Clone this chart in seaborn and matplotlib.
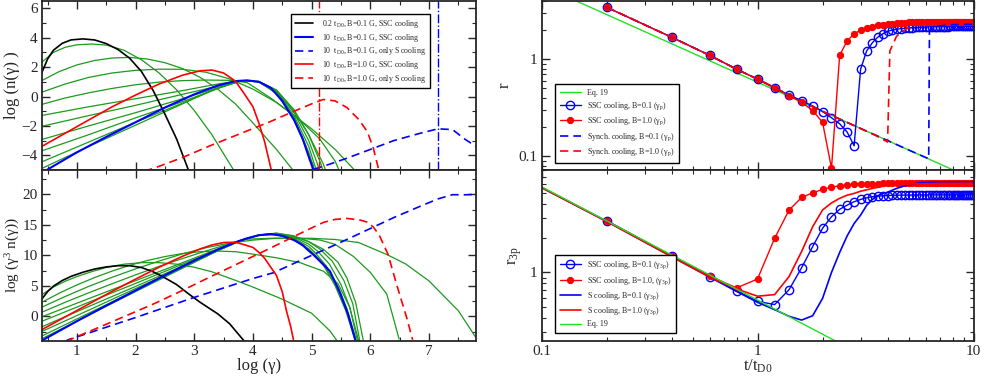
import numpy as np
import pandas as pd
import matplotlib
matplotlib.use("Agg")
import matplotlib.pyplot as plt
import seaborn as sns
from matplotlib.ticker import MultipleLocator, LogLocator, NullFormatter, FixedLocator, FixedFormatter

# ---------------- data: electron spectra, log n(gamma) ----------------
black_x = [0.40, 0.50, 0.60, 0.75, 0.90, 1.10, 1.30, 1.50, 1.70, 1.90, 2.10, 2.30, 2.50, 2.70, 2.90, 3.10, 3.40, 3.60, 3.85]
black_y = [1.60, 2.55, 3.15, 3.62, 3.85, 3.92, 3.85, 3.60, 3.20, 2.60, 1.70, 0.40, -1.20, -2.90, -5.00, -7.00, -9.80, -12.0, -15.6]

blue_x = [0.40, 1.00, 1.50, 2.00, 2.50, 3.00, 3.40, 3.70, 3.90, 4.10, 4.30, 4.50, 4.70, 4.85, 4.95, 5.03, 5.15, 5.31, 5.48, 5.62, 5.74]
blue_y = [-5.20, -3.80, -2.75, -1.75, -0.75, 0.15, 0.75, 1.05, 1.10, 1.00, 0.60, -0.30, -1.60, -2.90, -4.10, -5.00, -6.50, -8.50, -12.5, -16.5, -21.0]

red_x = [0.40, 0.80, 1.20, 1.60, 2.00, 2.40, 2.80, 3.10, 3.30, 3.50, 3.70, 3.85, 4.00, 4.10, 4.20, 4.30, 4.40, 4.50, 4.57, 4.64, 4.69]
red_y = [-3.40, -2.50, -1.60, -0.70, 0.10, 0.85, 1.45, 1.75, 1.80, 1.60, 1.05, 0.20, -0.70, -1.80, -3.10, -4.80, -6.50, -9.50, -12.8, -15.5, -17.9]

red_s_x = [0.40, 0.85, 1.50, 2.30, 2.80, 3.30, 3.80, 4.30, 4.70, 5.00, 5.20, 5.40, 5.60, 5.80, 5.95, 6.05, 6.15, 6.30, 6.45, 6.62, 6.72]
red_s_y = [-7.10, -6.50, -5.80, -4.90, -4.15, -3.30, -2.50, -1.70, -1.00, -0.50, -0.20, -0.30, -0.75, -1.55, -2.40, -3.50, -5.10, -8.70, -14.2, -20.1, -24.0]

blue_s_x = [0.40, 0.85, 2.00, 2.98, 4.00, 4.35, 5.00, 5.31, 5.60, 6.00, 6.40, 6.85, 7.15, 7.40, 7.61, 7.80]
blue_s_y = [-7.60, -6.40, -6.20, -5.90, -5.80, -5.90, -5.00, -4.60, -4.20, -3.60, -3.00, -2.50, -2.20, -2.25, -2.90, -3.40]

# intermediate times (green), earliest first
green_x = [
    [0.40, 0.60, 0.80, 1.00, 1.25, 1.50, 1.80, 2.10, 2.40, 2.70, 3.00, 3.30, 3.67, 4.00, 4.50, 5.00, 5.31, 5.45],
    [0.40, 0.70, 1.00, 1.30, 1.60, 1.90, 2.20, 2.50, 2.80, 3.10, 3.40, 3.70, 4.00, 4.40, 4.80, 5.20, 5.45, 5.65, 5.80],
    [0.40, 0.80, 1.20, 1.60, 2.00, 2.40, 2.80, 3.20, 3.60, 4.00, 4.40, 4.80, 5.14, 5.40, 5.71, 6.00, 6.28, 6.49],
    [0.40, 0.80, 1.20, 1.60, 2.00, 2.40, 2.80, 3.20, 3.60, 3.90, 4.30, 4.70, 5.00, 5.40, 5.80, 6.28, 6.60, 7.00, 7.50, 7.80],
    [0.40, 1.20, 2.00, 2.80, 3.40, 3.80, 4.10, 4.40, 4.70, 4.95, 5.20, 5.45, 5.60, 5.75, 5.88],
    [0.40, 1.20, 2.00, 2.80, 3.40, 3.80, 4.10, 4.40, 4.70, 4.95, 5.15, 5.35, 5.55, 5.70, 5.82],
    [0.40, 1.20, 2.00, 2.80, 3.40, 3.80, 4.10, 4.40, 4.70, 4.95, 5.10, 5.30, 5.50, 5.65, 5.78],
    [0.40, 1.20, 2.00, 2.80, 3.40, 3.80, 4.10, 4.40, 4.70, 4.95, 5.07, 5.25, 5.45, 5.60, 5.76],
    [0.40, 1.20, 2.00, 2.80, 3.40, 3.80, 4.10, 4.40, 4.70, 4.95, 5.05, 5.20, 5.40, 5.58, 5.75],
    [0.40, 1.20, 2.00, 2.80, 3.40, 3.80, 4.10, 4.40, 4.70, 4.95, 5.04, 5.20, 5.40, 5.58, 5.74],
]
green_y = [
    [2.33, 3.00, 3.35, 3.52, 3.57, 3.50, 3.15, 2.50, 1.60, 0.45, -0.95, -2.60, -5.00, -7.20, -10.7, -14.5, -18.3, -20.6],
    [1.08, 1.70, 2.15, 2.45, 2.62, 2.66, 2.55, 2.30, 1.90, 1.30, 0.50, -0.50, -1.80, -3.60, -5.60, -8.20, -11.0, -15.5, -21.4],
    [0.29, 0.85, 1.30, 1.60, 1.78, 1.86, 1.85, 1.65, 1.20, 0.50, -0.40, -1.60, -2.90, -4.40, -7.30, -10.8, -15.2, -23.2],
    [-0.54, -0.10, 0.25, 0.55, 0.80, 0.98, 1.08, 1.12, 1.10, 0.95, -0.10, -1.30, -2.20, -3.60, -5.30, -8.70, -11.2, -15.2, -21.6, -26.9],
    [-1.29, -0.70, -0.15, 0.40, 0.85, 1.08, 1.00, 0.40, -1.00, -2.60, -4.60, -7.50, -10.5, -15.0, -21.6],
    [-2.03, -1.30, -0.60, 0.15, 0.70, 1.05, 1.02, 0.45, -0.90, -2.60, -4.50, -7.00, -10.8, -15.0, -21.5],
    [-2.93, -2.00, -1.10, -0.15, 0.60, 1.05, 1.02, 0.40, -1.10, -3.00, -4.60, -7.30, -11.3, -15.5, -21.3],
    [-3.70, -2.60, -1.45, -0.35, 0.55, 1.07, 1.02, 0.35, -1.30, -3.40, -4.90, -7.50, -11.5, -15.5, -21.2],
    [-4.45, -3.10, -1.75, -0.45, 0.55, 1.08, 1.00, 0.25, -1.45, -3.80, -5.00, -7.00, -10.8, -15.5, -21.2],
    [-4.90, -3.40, -1.95, -0.50, 0.60, 1.08, 1.00, 0.20, -1.55, -3.95, -5.00, -7.20, -11.2, -15.8, -21.1],
]

red_cut = 5.13
blue_cut = 7.15

# ---------------- data: r(t) ----------------
t_ssc = [round(0.2 * k, 1) for k in range(1, 51)]
r_p_b01 = [3.45, 1.69, 1.10, 0.79, 0.624, 0.508, 0.428, 0.374, 0.33, 0.289,
           0.249, 0.216, 0.177, 0.128, 0.79, 1.22, 1.48, 1.69, 1.83, 1.95,
           2.00, 2.04, 2.07, 2.09, 2.11, 2.12, 2.13, 2.14, 2.15, 2.16,
           2.16, 2.17, 2.17, 2.17, 2.18, 2.18, 2.18, 2.18, 2.19, 2.19,
           2.19, 2.19, 2.19, 2.19, 2.19, 2.19, 2.19, 2.19, 2.19, 2.19]
r_p_b10 = [3.45, 1.69, 1.10, 0.79, 0.624, 0.505, 0.42, 0.36, 0.296, 0.224,
           0.075, 1.10, 1.55, 1.83, 2.00, 2.10, 2.18, 2.24, 2.28, 2.31,
           2.34, 2.36, 2.38, 2.39, 2.40, 2.41, 2.42, 2.42, 2.43, 2.43,
           2.43, 2.44, 2.44, 2.44, 2.44, 2.45, 2.45, 2.45, 2.45, 2.45,
           2.45, 2.45, 2.45, 2.45, 2.45, 2.45, 2.45, 2.45, 2.45, 2.45]

t_syn_b01 = [0.2, 0.4, 0.6, 0.8, 1.0, 1.2, 1.4, 1.6, 1.8, 2.0, 2.5, 3.0, 4.0, 5.0, 6.2, 6.25, 6.5, 7.0, 8.0, 10.0]
r_syn_b01 = [3.45, 1.69, 1.10, 0.79, 0.624, 0.508, 0.428, 0.37, 0.325, 0.29, 0.232, 0.193, 0.145, 0.116, 0.094, 1.95, 2.15, 2.22, 2.28, 2.30]
t_syn_b10 = [0.2, 0.4, 0.6, 0.8, 1.0, 1.2, 1.4, 1.6, 1.8, 2.0, 2.5, 3.0, 3.5, 4.0, 4.1, 4.4, 4.9, 5.6, 7.5, 10.0]
r_syn_b10 = [3.45, 1.69, 1.10, 0.79, 0.624, 0.508, 0.428, 0.37, 0.325, 0.29, 0.232, 0.193, 0.165, 0.14, 1.22, 1.73, 2.08, 2.28, 2.43, 2.50]

eq19_t = [0.1, 10.0]
eq19_r = [5.8, 0.058]

# ---------------- data: r_3p(t) ----------------
r3_b01 = [2.86, 1.40, 0.92, 0.69, 0.557, 0.52, 0.705, 1.10, 1.69, 2.45,
          3.10, 3.60, 3.92, 4.20, 4.40, 4.55, 4.65, 4.70, 4.74, 4.76,
          4.78, 4.79, 4.80, 4.80, 4.81, 4.81, 4.82, 4.82, 4.82, 4.82,
          4.83, 4.83, 4.83, 4.83, 4.83, 4.83, 4.83, 4.83, 4.83, 4.83,
          4.83, 4.83, 4.83, 4.83, 4.83, 4.83, 4.83, 4.83, 4.83, 4.83]
r3_b10 = [2.86, 1.40, 0.93, 0.73, 0.875, 2.00, 3.55, 4.58, 5.03, 5.40,
          5.65, 5.80, 5.90, 5.97, 6.02, 6.05, 6.07, 6.08, 6.09, 6.10,
          6.10, 6.10, 6.11, 6.11, 6.11, 6.11, 6.11, 6.12, 6.12, 6.12,
          6.12, 6.12, 6.12, 6.12, 6.12, 6.12, 6.12, 6.12, 6.12, 6.12,
          6.12, 6.12, 6.12, 6.12, 6.12, 6.12, 6.12, 6.12, 6.12, 6.12]

t_s = [0.1, 0.2, 0.4, 0.6, 0.8, 1.0, 1.2, 1.4, 1.6, 1.8, 2.0, 2.2, 2.4, 2.6, 2.8, 3.0, 3.2, 3.4, 3.6, 3.8, 4.0, 4.4, 4.8, 5.2, 5.6, 6.0, 7.0, 8.0, 10.0]
r3_s_b01 = [5.6, 2.82, 1.38, 0.91, 0.68, 0.545, 0.47, 0.41, 0.38, 0.415, 0.59, 1.0, 1.5, 2.1, 2.7, 3.2, 3.9, 4.4, 4.75, 4.95, 5.1, 5.5, 5.8, 6.0, 6.15, 6.22, 6.28, 6.30, 6.30]
r3_s_b10 = [5.6, 2.82, 1.38, 0.91, 0.715, 0.617, 0.637, 0.92, 1.53, 2.53, 3.55, 4.1, 4.5, 4.8, 4.97, 5.2, 5.35, 5.5, 5.62, 5.75, 5.85, 5.95, 6.0, 6.03, 6.05, 6.06, 6.08, 6.10, 6.10]

eq19_3_t = [0.1, 2.3]
eq19_3_r = [5.7, 0.248]

# ---------------- style ----------------
sns.set_style("ticks")
plt.rcParams['font.family'] = ['Liberation Serif', 'DejaVu Serif']
plt.rcParams['mathtext.fontset'] = 'custom'
plt.rcParams['mathtext.rm'] = 'Liberation Serif'
plt.rcParams['mathtext.it'] = 'Liberation Serif:italic'
plt.rcParams['axes.linewidth'] = 1.3

GREEN = '#1c9a1c'
BLUE = '#0000ff'
RED = '#ff0000'
LGREEN = '#22e022'

fig = plt.figure(figsize=(9.81, 3.76), dpi=100)
ax_n = fig.add_axes([0.0425, 0.5479, 0.4427, 0.4495])
ax_n3 = fig.add_axes([0.0425, 0.0939, 0.4427, 0.454])
ax_r = fig.add_axes([0.552, 0.5479, 0.4404, 0.4495])
ax_r3 = fig.add_axes([0.552, 0.0939, 0.4404, 0.454])


def curve(ax, x, y, **kw):
    sns.lineplot(x=np.asarray(x, float), y=np.asarray(y, float), ax=ax,
                 sort=False, estimator=None, **kw)


def scaled(x, y, power):
    return np.asarray(y, float) + power * np.asarray(x, float)


# left panels: same spectra, bottom one multiplied by gamma^3
for ax, power in [(ax_n, 0), (ax_n3, 3)]:
    for gx, gy in zip(green_x, green_y):
        curve(ax, gx, scaled(gx, gy, power), color=GREEN, lw=0.9)
    curve(ax, black_x, scaled(black_x, black_y, power), color='black', lw=1.2,
          label='0.2 t$_{\\rm D0}$, B=0.1 G, SSC cooling')
    curve(ax, blue_x, scaled(blue_x, blue_y, power), color=BLUE, lw=1.5,
          label='10  t$_{\\rm D0}$, B=0.1 G, SSC cooling')
    curve(ax, blue_s_x, scaled(blue_s_x, blue_s_y, power), color=BLUE, lw=1.2,
          dashes=(5, 3), label='10  t$_{\\rm D0}$, B=0.1 G, only S cooling')
    curve(ax, red_x, scaled(red_x, red_y, power), color=RED, lw=1.2,
          label='10  t$_{\\rm D0}$, B=1.0 G, SSC cooling')
    curve(ax, red_s_x, scaled(red_s_x, red_s_y, power), color=RED, lw=1.2,
          dashes=(5, 3), label='10  t$_{\\rm D0}$, B=1.0 G, only S cooling')

ax_n.axvline(red_cut, color=RED, lw=1.0, ls='-.')
ax_n.axvline(blue_cut, color=BLUE, lw=1.0, ls='-.')

ax_n.set_xlim(0.4, 7.8)
ax_n.set_ylim(-5, 6.5)
ax_n.yaxis.set_major_locator(MultipleLocator(2))
ax_n.yaxis.set_minor_locator(MultipleLocator(1))
ax_n.set_ylabel('log (n(γ) )', fontsize=12, labelpad=1)
ax_n.set_xticklabels([])

ax_n3.set_xlim(0.4, 7.8)
ax_n3.set_ylim(-4, 24)
ax_n3.yaxis.set_major_locator(MultipleLocator(5))
ax_n3.yaxis.set_minor_locator(MultipleLocator(2.5))
ax_n3.set_ylabel('log (γ$^3$ n(γ))', fontsize=11, labelpad=0)
ax_n3.set_xlabel('log (γ)', fontsize=12, labelpad=0)
if ax_n3.get_legend():
    ax_n3.get_legend().remove()

for ax in (ax_n, ax_n3):
    ax.xaxis.set_major_locator(MultipleLocator(1))
    ax.xaxis.set_minor_locator(MultipleLocator(0.5))

leg = ax_n.legend(loc='upper left', bbox_to_anchor=(0.565, 0.945), fontsize=5.7, frameon=True,
                  fancybox=False, edgecolor='black', framealpha=1, handlelength=2.3,
                  borderpad=0.45, labelspacing=0.22, handletextpad=1.2)
leg.get_frame().set_linewidth(1.0)

# right top: r
curve(ax_r, eq19_t, eq19_r, color=LGREEN, lw=1.0, label='Eq. 19')
curve(ax_r, t_ssc, r_p_b01, color=BLUE, lw=1.0, marker='o', markersize=6,
      markerfacecolor='none', markeredgecolor=BLUE, markeredgewidth=1.0,
      label='SSC cooling, B=0.1 (γ$_{\\rm p}$)')
curve(ax_r, t_ssc, r_p_b10, color=RED, lw=1.0, marker='o', markersize=4.5,
      markerfacecolor=RED, markeredgecolor=RED,
      label='SSC cooling, B=1.0 (γ$_{\\rm p}$)')
curve(ax_r, t_syn_b01, r_syn_b01, color=BLUE, lw=1.2, dashes=(5, 3),
      label='Synch. cooling, B=0.1 (γ$_{\\rm p}$)')
curve(ax_r, t_syn_b10, r_syn_b10, color=RED, lw=1.2, dashes=(5, 3),
      label='Synch. cooling, B=1.0 (γ$_{\\rm p}$)')
ax_r.set_ylim(0.072, 4.0)
ax_r.set_ylabel('r', fontsize=12)

# right bottom: r_3p
curve(ax_r3, t_ssc, r3_b01, color=BLUE, lw=1.0, marker='o', markersize=6,
      markerfacecolor='none', markeredgecolor=BLUE, markeredgewidth=1.0,
      label='SSC cooling, B=0.1 (γ$_{\\rm 3p}$)')
curve(ax_r3, t_ssc, r3_b10, color=RED, lw=1.0, marker='o', markersize=4.5,
      markerfacecolor=RED, markeredgecolor=RED,
      label='SSC cooling, B=1.0, (γ$_{\\rm 3p}$)')
curve(ax_r3, t_s, r3_s_b01, color=BLUE, lw=1.2, label='S cooling, B=0.1 (γ$_{\\rm 3p}$)')
curve(ax_r3, t_s, r3_s_b10, color=RED, lw=1.2, label='S cooling, B=1.0 (γ$_{\\rm 3p}$)')
curve(ax_r3, eq19_3_t, eq19_3_r, color=LGREEN, lw=1.0, label='Eq. 19')
ax_r3.set_ylim(0.25, 8.0)
ax_r3.set_ylabel('r$_{\\rm 3p}$', fontsize=12)
ax_r3.set_xlabel('t/t$_{\\rm D0}$', fontsize=12, labelpad=0)

for ax in (ax_r, ax_r3):
    ax.set_xscale('log')
    ax.set_yscale('log')
    ax.set_xlim(0.1, 10)
    ax.yaxis.set_major_locator(FixedLocator([0.1, 1, 10]))
    ax.yaxis.set_major_formatter(FixedFormatter(['0.1', '1', '10']))
    ax.yaxis.set_minor_locator(LogLocator(base=10, subs=np.arange(2, 10), numticks=20))
    ax.yaxis.set_minor_formatter(NullFormatter())
    ax.xaxis.set_minor_locator(LogLocator(base=10, subs=np.arange(2, 10), numticks=20))
    ax.xaxis.set_minor_formatter(NullFormatter())
    lg = ax.legend(loc='lower left', bbox_to_anchor=(0.022, 0.02), fontsize=5.8, frameon=True,
                   fancybox=False, edgecolor='black', framealpha=1, handlelength=2.6,
                   borderpad=0.6, labelspacing=0.42)
    lg.get_frame().set_linewidth(1.0)
ax_r.xaxis.set_major_locator(FixedLocator([0.1, 1, 10]))
ax_r.set_xticklabels([])
ax_r3.xaxis.set_major_locator(FixedLocator([0.1, 1, 10]))
ax_r3.xaxis.set_major_formatter(FixedFormatter(['0.1', '1', '10']))

for ax in (ax_n, ax_n3, ax_r, ax_r3):
    ax.tick_params(which='both', direction='in', top=True, right=True, labelsize=11, pad=3)
    ax.tick_params(which='major', length=6, width=1.0)
    ax.tick_params(which='minor', length=3, width=0.8)

fig.savefig('out.png', dpi=100)
